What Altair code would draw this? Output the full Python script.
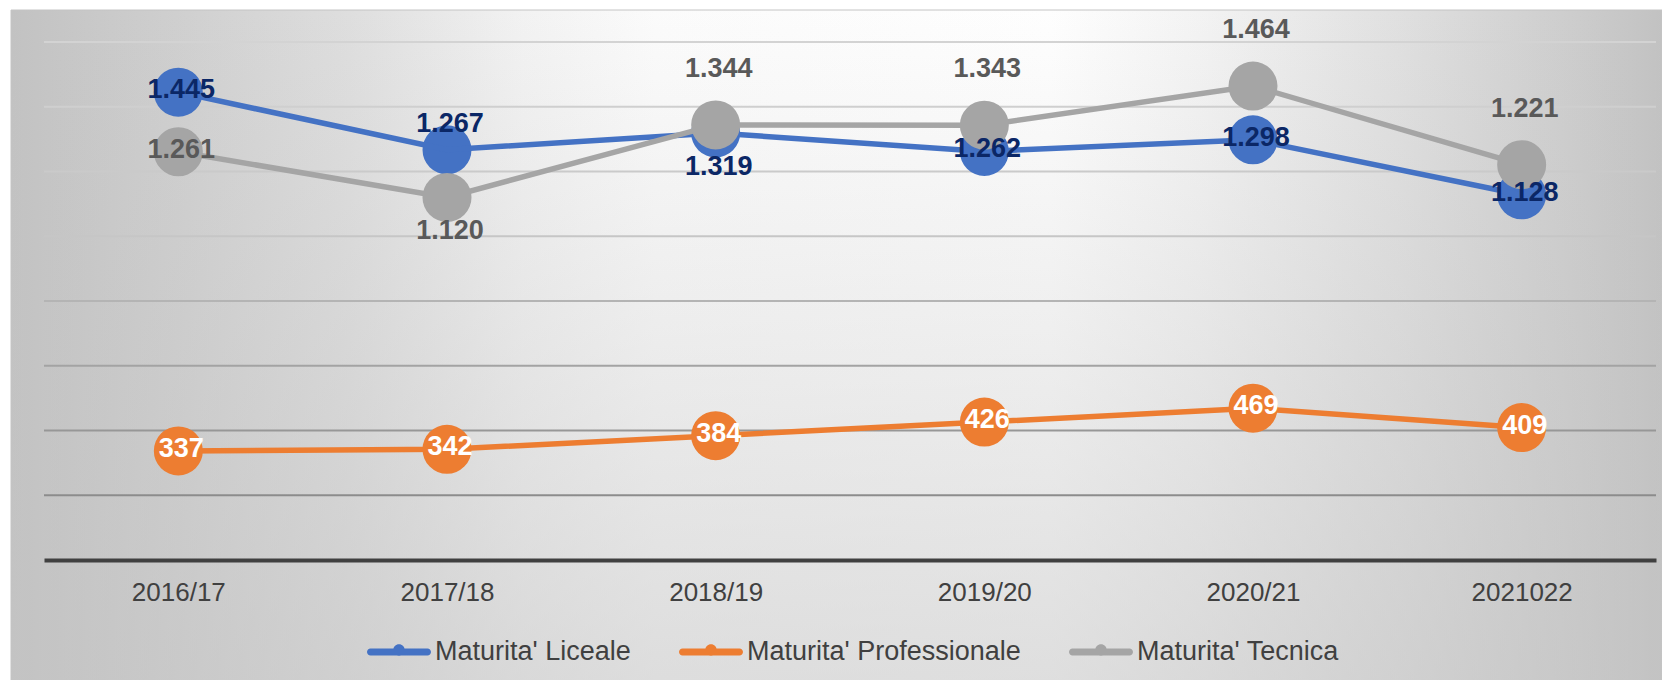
import altair as alt
import pandas as pd

# ---------------- data ----------------
CATEGORIES = ["2016/17", "2017/18", "2018/19", "2019/20", "2020/21", "2021022"]
SERIES = ["Maturita' Liceale", "Maturita' Professionale", "Maturita' Tecnica"]
LICEALE = [1445, 1267, 1319, 1262, 1298, 1128]
PROFESSIONALE = [337, 342, 384, 426, 469, 409]
TECNICA = [1261, 1120, 1344, 1343, 1464, 1221]
GRID_TICKS = [200, 400, 600, 800, 1000, 1200, 1400, 1600]

# where each data label sits relative to its marker
LABEL_PLACEMENT = {
    SERIES[0]: ["center", "near_above", "below", "center", "center", "center"],
    SERIES[1]: ["center", "center", "center", "center", "center", "center"],
    SERIES[2]: ["center", "below", "above", "above", "above", "above"],
}

# ---------------- styles ----------------
PLACEMENT_DY = {"center": -2, "near_above": -26, "above": -56, "below": 34}
SERIES_COLORS = ["#4472C4", "#ED7D31", "#A5A5A5"]
LABEL_COLORS = ["#0B2766", "#FFFFFF", "#595959"]
FONT = "Liberation Sans"

rows = []
for s, vals in zip(SERIES, [LICEALE, PROFESSIONALE, TECNICA]):
    for i, (c, v) in enumerate(zip(CATEGORIES, vals)):
        rows.append({
            "category": c,
            "series": s,
            "value": v,
            "label": f"{v:,}".replace(",", "."),
            "placement": LABEL_PLACEMENT[s][i],
        })
df = pd.DataFrame(rows)
grid_df = pd.DataFrame({"tick": GRID_TICKS})
bg_df = pd.DataFrame({"k": [0]})

W, H = 1612, 518
PAD = {"left": 36, "top": 34, "right": 6, "bottom": 120}

yscale = alt.Scale(domain=[0, 1600], nice=False, zero=True)
X = alt.X(
    "category:O",
    sort=CATEGORIES,
    scale=alt.Scale(domain=CATEGORIES, padding=0.5),
    axis=alt.Axis(
        title=None, labelAngle=0, labelFontSize=26, labelColor="#404040",
        labelFont=FONT, ticks=False, tickSize=0, labelPadding=19,
        domainColor="#404040", domainWidth=4, grid=False, zindex=1,
    ),
)
Y = alt.Y("value:Q", scale=yscale, axis=None)
color_scale = alt.Scale(domain=SERIES, range=SERIES_COLORS)

LEGEND_SYMBOL = (
    "M-0.89,-0.11 L0.89,-0.11 A0.11,0.11 0 0 1 0.89,0.11 L-0.89,0.11 "
    "A0.11,0.11 0 0 1 -0.89,-0.11 Z "
    "M0.18,-0.06 A0.18,0.18 0 1 1 -0.18,-0.06 A0.18,0.18 0 1 1 0.18,-0.06 Z"
)
legend = alt.Legend(
    title=None, orient="none", legendX=323, legendY=578, direction="horizontal",
    symbolType=LEGEND_SYMBOL, symbolSize=4096, symbolStrokeWidth=0,
    labelFontSize=27, labelColor="#404040", labelFont=FONT, labelOffset=4,
    columnPadding=48, padding=0, labelLimit=500, zindex=2,
)

# ---------------- background ----------------
bg_h = alt.Chart(bg_df).mark_rect(
    fill=alt.LinearGradient(
        gradient="linear", x1=0, y1=0, x2=1, y2=0,
        stops=[
            alt.GradientStop(color="#c2c2c2", offset=0),
            alt.GradientStop(color="#cfcfcf", offset=0.10),
            alt.GradientStop(color="#dedede", offset=0.205),
            alt.GradientStop(color="#f2f2f2", offset=0.31),
            alt.GradientStop(color="#fbfbfb", offset=0.39),
            alt.GradientStop(color="#fefefe", offset=0.63),
            alt.GradientStop(color="#f3f3f3", offset=0.72),
            alt.GradientStop(color="#e0e0e0", offset=0.84),
            alt.GradientStop(color="#cccccc", offset=0.95),
            alt.GradientStop(color="#c2c2c2", offset=1),
        ],
    ),
    stroke="#c4c4c4", strokeWidth=1,
).encode(x=alt.value(-33), x2=alt.value(1618), y=alt.value(-32), y2=alt.value(640))

bg_v = alt.Chart(bg_df).mark_rect(
    fill=alt.LinearGradient(
        gradient="linear", x1=0, y1=0, x2=0, y2=1,
        stops=[
            alt.GradientStop(color="rgba(196,196,196,0)", offset=0),
            alt.GradientStop(color="rgba(196,196,196,0.55)", offset=1),
        ],
    ),
).encode(x=alt.value(-33), x2=alt.value(1618), y=alt.value(-32), y2=alt.value(640))

grid = alt.Chart(grid_df).mark_rule(strokeWidth=2).encode(
    y=alt.Y("tick:Q", scale=yscale, axis=None),
    stroke=alt.Stroke(
        "tick:Q",
        scale=alt.Scale(domain=[200, 600, 1000, 1600],
                        range=["#8c8c8c", "#a3a3a3", "#c6c6c6", "#d3d3d3"]),
        legend=None,
    ),
)

# ---------------- series ----------------
def series_line(s):
    return alt.Chart(df).transform_filter(alt.datum.series == s).mark_line(
        strokeWidth=5.5
    ).encode(x=X, y=Y, color=alt.Color("series:N", scale=color_scale))


def series_points(s):
    return alt.Chart(df).transform_filter(alt.datum.series == s).mark_point(
        filled=True, size=2400, opacity=1, strokeWidth=0
    ).encode(x=X, y=Y, color=alt.Color("series:N", scale=color_scale, legend=legend))


layers = [bg_h, bg_v, grid]
# first series: its markers first (they carry the legend), its line is the same colour
layers += [series_points(SERIES[0]), series_line(SERIES[0])]
for s in SERIES[1:]:
    layers += [series_line(s), series_points(s)]

for p, dy in PLACEMENT_DY.items():
    txt = alt.Chart(df).transform_filter(alt.datum.placement == p).mark_text(
        dy=dy, dx=3, fontSize=27, fontWeight="bold", font=FONT, baseline="middle",
        align="center",
    ).encode(
        x=X, y=Y, text="label:N",
        fill=alt.Fill("series:N", scale=alt.Scale(domain=SERIES, range=LABEL_COLORS),
                      legend=None),
    )
    layers.append(txt)

chart = alt.layer(*layers).properties(
    width=W, height=H, padding=PAD, autosize=alt.AutoSizeParams(type="none"),
    background="white",
).configure_view(stroke=None)

chart.save("out.html", embed_options={"renderer": "svg", "actions": False})
